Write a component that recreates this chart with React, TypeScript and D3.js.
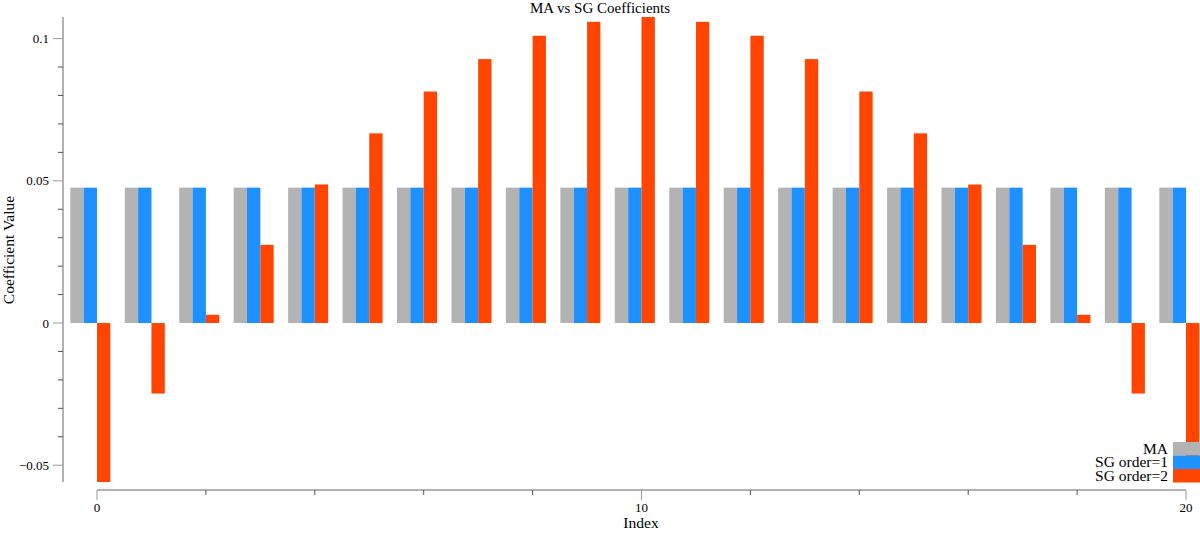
import { useEffect, useRef } from "react";
import * as d3 from "d3";

const indices = [0, 1, 2, 3, 4, 5, 6, 7, 8, 9, 10, 11, 12, 13, 14, 15, 16, 17, 18, 19, 20];
const maValues = [
  0.0476, 0.0476, 0.0476, 0.0476, 0.0476, 0.0476, 0.0476, 0.0476, 0.0476, 0.0476, 0.0476,
  0.0476, 0.0476, 0.0476, 0.0476, 0.0476, 0.0476, 0.0476, 0.0476, 0.0476, 0.0476,
];
const sg1Values = [
  0.0476, 0.0476, 0.0476, 0.0476, 0.0476, 0.0476, 0.0476, 0.0476, 0.0476, 0.0476, 0.0476,
  0.0476, 0.0476, 0.0476, 0.0476, 0.0476, 0.0476, 0.0476, 0.0476, 0.0476, 0.0476,
];
const sg2Values = [
  -0.0559, -0.0248, 0.0029, 0.0275, 0.0487, 0.0667, 0.0814, 0.0928, 0.101, 0.1059, 0.1076,
  0.1059, 0.101, 0.0928, 0.0814, 0.0667, 0.0487, 0.0275, 0.0029, -0.0248, -0.0559,
];
const seriesNames = ["MA", "SG order=1", "SG order=2"];
const seriesColors = ["#b3b3b3", "#1e90ff", "#ff4500"];
const yTicks = [-0.05, 0, 0.05, 0.1];
const xTicks = [0, 10, 20];

const W = 1200;
const H = 533;
const FONT = "'Liberation Serif', 'Times New Roman', serif";
const AXIS = "#999999";

export default function App() {
  const svgRef = useRef<SVGSVGElement>(null);

  useEffect(() => {
    if (!svgRef.current) return;
    const svg = d3.select(svgRef.current);
    svg.selectAll("*").remove();

    const x = d3.scaleLinear().domain([0, 20]).range([97, 1186]);
    const y = d3.scaleLinear().domain([-0.0559, 0.1076]).range([482, 17]);
    const bw = (x(1) - x(0)) * 0.245;

    const series = [maValues, sg1Values, sg2Values];
    series.forEach((vals, s) => {
      svg
        .append("g")
        .selectAll("rect")
        .data(indices)
        .join("rect")
        .attr("x", (i) => x(i) + (s - 2) * bw)
        .attr("width", bw)
        .attr("y", (i) => Math.min(y(vals[i]), y(0)))
        .attr("height", (i) => Math.abs(y(vals[i]) - y(0)))
        .attr("fill", seriesColors[s]);
    });

    // y axis
    const yAxis = svg.append("g").attr("font-family", FONT);
    yAxis
      .append("line")
      .attr("x1", 63)
      .attr("x2", 63)
      .attr("y1", 17)
      .attr("y2", 482)
      .attr("stroke", AXIS)
      .attr("stroke-width", 1.5);
    const minorY = d3.range(-5, 11).map((d) => d / 100);
    minorY.forEach((v) => {
      const major = yTicks.some((t) => Math.abs(t - v) < 1e-9);
      yAxis
        .append("line")
        .attr("x1", major ? 53 : 58)
        .attr("x2", 63)
        .attr("y1", y(v))
        .attr("y2", y(v))
        .attr("stroke", major ? AXIS : "#555")
        .attr("stroke-width", 1);
    });
    yTicks.forEach((t) => {
      yAxis
        .append("text")
        .attr("x", 49)
        .attr("y", y(t))
        .attr("dy", "0.35em")
        .attr("text-anchor", "end")
        .attr("font-size", 13)
        .text(d3.format("")(t));
    });

    // x axis
    const xAxis = svg.append("g").attr("font-family", FONT);
    xAxis
      .append("line")
      .attr("x1", x(0))
      .attr("x2", x(20))
      .attr("y1", 490)
      .attr("y2", 490)
      .attr("stroke", AXIS)
      .attr("stroke-width", 1.5);
    d3.range(0, 21, 2).forEach((v) => {
      const major = xTicks.includes(v);
      xAxis
        .append("line")
        .attr("x1", x(v))
        .attr("x2", x(v))
        .attr("y1", 490)
        .attr("y2", major ? 500 : 495)
        .attr("stroke", major ? AXIS : "#555")
        .attr("stroke-width", 1);
    });
    xTicks.forEach((t) => {
      xAxis
        .append("text")
        .attr("x", x(t))
        .attr("y", 512)
        .attr("text-anchor", "middle")
        .attr("font-size", 13)
        .text(t);
    });

    svg
      .append("text")
      .attr("x", 641)
      .attr("y", 528)
      .attr("text-anchor", "middle")
      .attr("font-family", FONT)
      .attr("font-size", 15.5)
      .text("Index");

    svg
      .append("text")
      .attr("transform", `translate(14,250) rotate(-90)`)
      .attr("text-anchor", "middle")
      .attr("font-family", FONT)
      .attr("font-size", 15.5)
      .text("Coefficient Value");

    svg
      .append("text")
      .attr("x", 600)
      .attr("y", 13)
      .attr("text-anchor", "middle")
      .attr("font-family", FONT)
      .attr("font-size", 15)
      .text("MA vs SG Coefficients");

    // legend
    const lg = svg.append("g").attr("font-family", FONT);
    seriesNames.forEach((name, i) => {
      const top = 442 + i * 13.5;
      lg.append("rect")
        .attr("x", 1173)
        .attr("y", top)
        .attr("width", 27)
        .attr("height", 13.5)
        .attr("fill", seriesColors[i]);
      lg.append("text")
        .attr("x", 1168)
        .attr("y", top + 11.5)
        .attr("text-anchor", "end")
        .attr("font-size", 15.5)
        .text(name);
    });
  }, []);

  return (
    <svg
      ref={svgRef}
      width={W}
      height={H}
      viewBox={`0 0 ${W} ${H}`}
      style={{ position: "absolute", left: 0, top: 0, background: "#fff" }}
    />
  );
}
